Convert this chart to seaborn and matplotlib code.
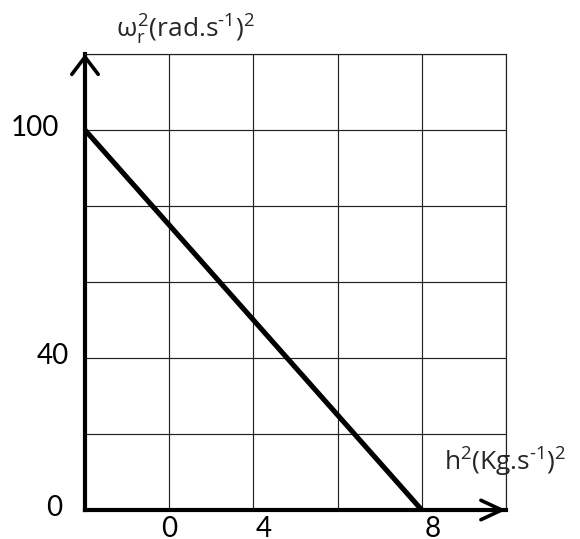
import numpy as np
import pandas as pd
import matplotlib
matplotlib.use("Agg")
import matplotlib.pyplot as plt
import matplotlib.transforms as mtransforms
import seaborn as sns

# ---- data ----
h2 = [0, 8]              # h^2 (Kg.s^-1)^2
omega2 = [100, 0]        # omega_r^2 (rad.s^-1)^2
x_tick_pos = [2, 4, 8]
x_tick_labels = ["0", "4", "8"]
y_tick_pos = [0, 40, 100]
y_tick_labels = ["0", "40", "100"]
x_grid = [0, 2, 4, 6, 8, 10]
y_grid = [0, 20, 40, 60, 80, 100, 120]

sns.set_style("white")
plt.rcParams["font.family"] = ["Lato", "DejaVu Sans"]
plt.rcParams["mathtext.fontset"] = "custom"
plt.rcParams["mathtext.rm"] = "Open Sans"
plt.rcParams["mathtext.it"] = "Open Sans"
plt.rcParams["mathtext.bf"] = "Open Sans:bold"

fig = plt.figure(figsize=(5.8, 5.39), dpi=100)
ax = fig.add_axes([85/580, 1 - 510/539, 421/580, 456/539])

df = pd.DataFrame({"h2": h2, "omega2": omega2})
sns.lineplot(data=df, x="h2", y="omega2", color="black", linewidth=3.7, ax=ax,
             solid_capstyle="butt", zorder=5)

ax.set_xlim(x_grid[0], x_grid[-1])
ax.set_ylim(y_grid[0], y_grid[-1])

ax.xaxis.remove_overlapping_locs = False
ax.yaxis.remove_overlapping_locs = False
ax.set_xticks(x_grid, minor=True)
ax.set_yticks(y_grid, minor=True)
ax.set_xticks(x_tick_pos)
ax.set_xticklabels(x_tick_labels)
ax.set_yticks(y_tick_pos)
ax.set_yticklabels(y_tick_labels)
ax.grid(False)
ax.grid(True, which="minor", color="#222222", linewidth=0.85)
ax.tick_params(which="both", length=0)
ax.tick_params(axis="x", which="major", labelsize=20, pad=4, colors="black")
ax.tick_params(axis="y", which="major", labelsize=20, pad=15, colors="black")
ax.set_xlabel("")
ax.set_ylabel("")

# per-label offsets (pixels) to match the hand-placed labels
px = fig.dpi_scale_trans
xoff = {"0": 0, "4": 10, "8": 11}
for lab in ax.get_xticklabels():
    dx = xoff.get(lab.get_text(), 0)
    lab.set_transform(lab.get_transform() + mtransforms.ScaledTranslation(dx/100, 0, px))
yoff = {"100": (-5, 4), "40": (5, 4), "0": (-2, 4)}
for lab in ax.get_yticklabels():
    dx, dy = yoff.get(lab.get_text(), (0, 0))
    lab.set_transform(lab.get_transform() + mtransforms.ScaledTranslation(dx/100, dy/100, px))

for s in ["top", "right"]:
    ax.spines[s].set_linewidth(0.85)
    ax.spines[s].set_color("#222222")
for s in ["left", "bottom"]:
    ax.spines[s].set_linewidth(3.0)
    ax.spines[s].set_color("black")

# axis arrows
ax.annotate("", xy=(0, 1), xytext=(0, 0.9), xycoords="axes fraction",
            arrowprops=dict(arrowstyle="->,head_length=12.5,head_width=9.5",
                            lw=2.6, color="black", shrinkA=0, shrinkB=0,
                            mutation_scale=1), annotation_clip=False)
ax.annotate("", xy=(1, 0), xytext=(0.9, 0), xycoords="axes fraction",
            arrowprops=dict(arrowstyle="->,head_length=15,head_width=7",
                            lw=2.6, color="black", shrinkA=0, shrinkB=0,
                            mutation_scale=1), annotation_clip=False)

lab_font = ["Open Sans", "DejaVu Sans"]
ax.text(0.238, 1.053, r"$\omega_{r}^{2}$(rad.s$^{\text{-}1}$)$^{2}$", transform=ax.transAxes,
        ha="center", va="center", fontsize=19, family=lab_font)
ax.text(0.853, 0.105, r"h$^{2}$(Kg.s$^{\text{-}1}$)$^{2}$", transform=ax.transAxes,
        ha="left", va="center", fontsize=19, family=lab_font)

fig.savefig("out.png", dpi=100)
